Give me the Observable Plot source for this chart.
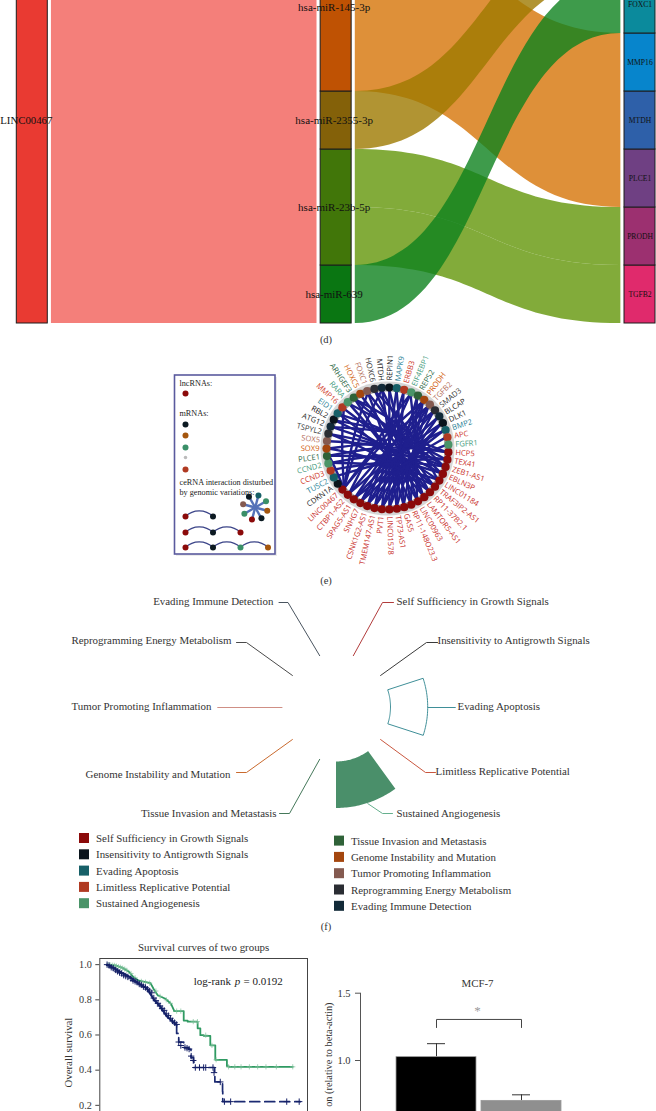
<!DOCTYPE html>
<html><head><meta charset="utf-8">
<script src="https://cdn.jsdelivr.net/npm/d3@7"></script>
<script src="https://cdn.jsdelivr.net/npm/@observablehq/plot@0.6"></script>
<style>
html,body{margin:0;padding:0;background:#fff;overflow:hidden}
#page{position:relative;width:656px;height:1111px;overflow:hidden;background:#fff;font-family:"Liberation Serif",serif}
.cap{position:absolute;width:30px;text-align:center;font-size:10.5px;color:#333;line-height:12px}
</style></head><body><div id="page"></div>
<script>
// ---------- (d) Sankey data (listed bottom-up) ----------
const lncName = "LINC00467";
const mirNames = ["hsa-miR-639","hsa-miR-23b-5p","hsa-miR-2355-3p","hsa-miR-145-3p"];
const mirColors = ["#0a7612","#417609","#846109","#bf5203"];
const targetNames = ["TGFB2","PRODH","PLCE1","MTDH","MMP16","FOXC1",""];
const targetColors = ["#e02a6c","#9c3070","#6f4083","#2e60a9","#0785cc","#0b8a9c","#0b8a7c"];
const mirTargets = {
  "hsa-miR-145-3p":["PLCE1","MTDH","MMP16"],
  "hsa-miR-2355-3p":[""],
  "hsa-miR-23b-5p":["TGFB2","PRODH"],
  "hsa-miR-639":["FOXC1"]
};
const linkColors = {"hsa-miR-145-3p":"#d67408","hsa-miR-2355-3p":"#9d7900","hsa-miR-23b-5p":"#639609","hsa-miR-639":"#0e821e"};
const lncLinkColor = "#f47f7a";

// ---------- (e) ceRNA network data ----------
const lncRNAs = ["HCP5","TEX41","ZEB1-AS1","EBLN3P","LINC01184","TRAF3IP2-AS1","RP11-37B2.1","LAMTOR5-AS1","LINC00963","RP11-148O23.3","GAS5","TP73-AS1","LINC01578","PVT1","TMEM147-AS1","CSNK1G2-AS1","SNHG7","SPAG5-AS1","CTBP1-AS2","LINC00467"];
const mRNAs = ["CDKN1A","TUSC2","CCND3","CCND2","PLCE1","SOX9","SOX5","TSPYL2","ATG12","RBL2","EID1","MMP16","RARA","ARHGEF3","HOXC5","FOXC1","HOXC6","MTDH","REPIN1","MAPK9","ERBB3","EIF4EBP1","REPS2","PRODH","TGFB2","SMAD3","BLCAP","DLK1","BMP2","APC","FGFR1"];
const mRNAClass = [1,2,3,4,5,6,7,8,9,1,2,3,4,5,6,7,8,9,1,2,3,4,5,6,7,8,9,1,2,3,4];
const edges = [
 ["HCP5",["PLCE1","SOX9","ATG12"]],
 ["TEX41",["TUSC2","CCND2","RBL2"]],
 ["ZEB1-AS1",["CCND3","SOX5","EID1","ARHGEF3"]],
 ["EBLN3P",["PLCE1","TSPYL2","RARA"]],
 ["LINC01184",["CCND2","ATG12","HOXC6"]],
 ["TRAF3IP2-AS1",["SOX9","RBL2","ARHGEF3"]],
 ["RP11-37B2.1",["TSPYL2","MMP16","FOXC1"]],
 ["LAMTOR5-AS1",["EID1","HOXC5","MTDH"]],
 ["LINC00963",["RARA","HOXC6","EIF4EBP1"]],
 ["RP11-148O23.3",["ARHGEF3","REPIN1","REPS2"]],
 ["GAS5",["FOXC1","MAPK9","PRODH"]],
 ["TP73-AS1",["MTDH","ERBB3","TGFB2"]],
 ["LINC01578",["REPIN1","REPS2","SMAD3"]],
 ["PVT1",["MAPK9","PRODH","BLCAP","DLK1"]],
 ["TMEM147-AS1",["ERBB3","TGFB2","DLK1"]],
 ["CSNK1G2-AS1",["EIF4EBP1","SMAD3","BMP2"]],
 ["SNHG7",["PRODH","BLCAP","APC"]],
 ["SPAG5-AS1",["TGFB2","DLK1","FGFR1"]],
 ["CTBP1-AS2",["SMAD3","BMP2","EIF4EBP1"]],
 ["LINC00467",["FOXC1","MMP16","MTDH","PLCE1","PRODH","TGFB2"]]
];

// ---------- (f) hallmarks ----------
const hallmarks = ["Self Sufficiency in Growth Signals","Insensitivity to Antigrowth Signals","Evading Apoptosis","Limitless Replicative Potential","Sustained Angiogenesis","Tissue Invasion and Metastasis","Genome Instability and Mutation","Tumor Promoting Inflammation","Reprogramming Energy Metabolism","Evading Immune Detection"];
const hallmarkValues = [0,0,0.8,0,1,0,0,0,0,0];
const hallmarkFilled = [0,0,0,0,1,0,0,0,0,0];
const hallmarkColors = ["#8b0a0a","#0a141c","#176068","#b03a22","#4a9468","#2f6238","#a4460e","#845a50","#2a2d33","#122a38"];
const leaderColors = ["#b23c3c","#3a3a3a","#3f8f98","#c9573f","#66b08e","#45785a","#c96a2e","#cf8f85","#4a4a4a","#4a5560"];

// ---------- (g) survival ----------
const greenEarlyT = [3.5,7.5,10.7,13.9,16.3,18.8,24.4,26,27.9,31.6,34.3,35.9];
const greenEarlyS = [1,.996,.983,.961,.928,.909,.895,.86,.826,.806,.777,.736];
const greenLateT = [35.9,40.4,42.3,47.1,48.4,50,53.2,55.6,61.2,62.2,92.9];
const greenLateS = [.736,.682,.676,.638,.599,.595,.541,.459,.422,.419,.419];
const navyEarlyT = [3.5,6.7,10.7,14.7,18.3,22.8,26,29.2,32.4,36.9];
const navyEarlyS = [1,.981,.953,.928,.895,.864,.802,.76,.705,.657];
const navyLateT = [36.9,37,38,40.4,42.8,43.9,45.2,45.3,54.5,55.3,55.4,59.1,59.2,96.5];
const navyLateS = [.657,.609,.56,.529,.519,.471,.448,.415,.415,.386,.333,.279,.221,.221];
const greenCensorT = [4,5,6,7,8,9,10,11,12,13,15,17,20,22,24,27,29,32,34,37,39,45,47,51,54,56,62,65,68,72,76,80,85,92.9];
const greenCensorS = [1,.998,.997,.996,.992,.988,.985,.98,.975,.968,.95,.925,.905,.9,.895,.85,.82,.8,.78,.736,.736,.676,.676,.599,.541,.459,.419,.419,.419,.419,.419,.419,.419,.419];
const navyCensorT = [3.5,4.5,5.5,6.5,7.5,8.5,9.5,10.5,11.5,12.5,13.5,15,16,17,18,19,20,21,22,23,24,25,26,27,28,29,30,31,32,33,34,35,36,37,38,39,41,42,43,44,45,46,48,50,51,54.5,55,58,60,63,90,96];
const navyCensorS = [1,.995,.985,.98,.97,.962,.955,.95,.94,.935,.93,.92,.91,.905,.9,.89,.885,.875,.87,.86,.85,.84,.81,.795,.78,.765,.75,.74,.72,.71,.695,.68,.67,.66,.56,.54,.529,.525,.52,.48,.455,.415,.415,.415,.415,.415,.386,.333,.221,.221,.221,.221];
const survTitle = "Survival curves of two groups";

// ---------- (h) qPCR bars ----------
const barGroups = ["Control","Knockdown"];
const barValues = [1.025,0.70];
const barErrors = [1.125,0.745];
const barColors = ["#000000","#8f8f8f"];
const barTitle = "MCF-7";
const barYLabel = "on (relative to beta-actin)";
const sigLow = 1.245, sigHigh = 1.305;

// =========== drawing ===========
const page = document.getElementById("page");
const serif = '"Liberation Serif",serif';
const sans = '"Open Sans",sans-serif';
function place(el,left,top){el.style.position="absolute";el.style.left=left+"px";el.style.top=top+"px";el.style.background="transparent";page.appendChild(el);return el;}
function caption(t,x,y){const d=document.createElement("div");d.className="cap";d.textContent=t;d.style.left=(x-15)+"px";d.style.top=(y-6)+"px";page.appendChild(d);}

// ----- (d) -----
(function(){
  const nodeW=0.102, gap=0.012;
  let stack=0; const mirNodes=[]; const links=[];
  mirNames.forEach((m,i)=>{
    const ts=mirTargets[m], n=ts.length;
    mirNodes.push({name:m,y0:stack,y1:stack+n,fill:mirColors[i]});
    const tis=ts.map(t=>targetNames.indexOf(t));
    if(m==="hsa-miR-145-3p"){ // contiguous targets drawn as one ribbon
      links.push({id:m,color:linkColors[m],s0:stack,s1:stack+n,t0:d3.min(tis),t1:d3.max(tis)+1,m});
    } else tis.forEach((ti,k)=>links.push({id:m+ti,color:linkColors[m],s0:stack+k,s1:stack+k+1,t0:ti,t1:ti+1,m}));
    stack+=n;
  });
  const total=targetNames.length;
  const targets=targetNames.map((t,i)=>({name:t,y0:i,y1:i+1,fill:targetColors[i]}));
  const pts=[];
  mirNames.slice().reverse().forEach(m=>links.filter(l=>l.m===m).forEach(l=>{
    pts.push({id:l.id,color:l.color,x:1+nodeW+gap,y0:l.s0,y1:l.s1});
    pts.push({id:l.id,color:l.color,x:2-gap,y0:l.t0,y1:l.t1});
  }));
  const nodeMark=(data,st)=>Plot.rect(data,{x1:st,x2:st+nodeW,y1:"y0",y2:"y1",fill:"fill",stroke:"#1c1c1c",strokeWidth:1});
  const mid=d=>(d.y0+d.y1)/2;
  const plot=Plot.plot({width:656,height:325,margin:0,
    x:{domain:[-16.3/304,640/304],range:[0,656],axis:null},
    y:{domain:[0,total],range:[323,-83],axis:null},
    style:{fontFamily:serif,background:"transparent"},
    marks:[
      nodeMark([{y0:0,y1:total,fill:"#e93a32"}],0),
      Plot.rect([{y0:0,y1:total}],{x1:nodeW+gap,x2:1-gap,y1:"y0",y2:"y1",fill:lncLinkColor}),
      nodeMark(mirNodes,1),
      nodeMark(targets,2),
      Plot.areaY(pts,{x:"x",y1:"y0",y2:"y1",z:"id",fill:"color",fillOpacity:0.8,curve:"bump-x"}),
      Plot.text([lncName],{x:nodeW/2,y:total/2,text:d=>d,fontSize:10.8,fill:"#111",dx:-6}),
      Plot.text(mirNodes.slice(0,3),{x:1+nodeW/2,y:mid,text:"name",fontSize:11,fill:"#111",dx:-2}),
      Plot.text(mirNodes.slice(3),{x:1+nodeW/2,y:mid,text:"name",fontSize:11,fill:"#111",dx:-2,dy:3}),
      Plot.text(targets.filter(d=>d.name),{x:2+nodeW/2,y:mid,text:"name",fontSize:7.6,fill:"#111"})
    ]});
  place(plot,0,0);
})();
caption("(d)",326,340);

// ----- (e) legend panel -----
(function(){
  const slotX=i=>185+i*27.5;
  const lnc=hallmarkColors[0];
  const singles=[
    {x:0,y:393,fill:lnc,r:3},
    {x:0,y:424,fill:"#0c1a22",r:3},{x:0,y:435,fill:"#a4560e",r:3},{x:0,y:447,fill:"#3a8f68",r:3},
    {x:0,y:457,fill:"#bbbbbb",r:1},{x:0,y:469,fill:"#b03a22",r:3}
  ];
  const chains=[
    {y:516,nodes:[lnc,"#0c1a22"]},
    {y:532,nodes:[lnc,"#0c1a22",lnc]},
    {y:547,nodes:[lnc,"#0c1a22","#3a8f68","#a4560e"]}
  ];
  const chainDots=chains.flatMap(c=>c.nodes.map((fill,i)=>({x:i,y:c.y,fill})));
  const chainArcs=chains.flatMap(c=>c.nodes.slice(1).map((_,i)=>({x1:i,x2:i+1,y:c.y})));
  const star=["#0c1a22","#176068","#3a8f68","#a4560e","#0c1a22","#8b0a0a","#3a8f68","#845a50"];
  const sc={x:254.7,y:507};
  const starDots=star.map((fill,i)=>{const a=(-30+i*45)*Math.PI/180;return {x:sc.x+12.5*Math.sin(a),y:sc.y-12.5*Math.cos(a),fill};});
  const txt=[["lncRNAs:",383],["mRNAs:",413],["ceRNA interaction disturbed",482],["by genomic variations:",492]];
  const plot=Plot.plot({width:110,height:190,margin:0,
    x:{domain:[171,281],range:[0,110],axis:null},
    y:{domain:[371,561],range:[0,190],axis:null},
    style:{fontFamily:serif,background:"transparent"},
    marks:[
      Plot.rect([0],{x1:176,x2:277,y1:377,y2:556,fill:"#ddd",fillOpacity:.6}),
      Plot.rect([0],{x1:174.5,x2:275,y1:375,y2:554,fill:"#fff",stroke:"#5a5a9e",strokeWidth:1.6}),
      Plot.dot(singles,{x:d=>slotX(d.x),y:"y",fill:"fill",r:"r"}),
      Plot.arrow(chainArcs,{x1:d=>slotX(d.x1),x2:d=>slotX(d.x2),y1:"y",y2:"y",bend:45,headLength:0,stroke:"#3b4488",strokeWidth:1.3}),
      Plot.dot(chainDots,{x:d=>slotX(d.x),y:"y",fill:"fill",r:3}),
      Plot.link(starDots,{x1:sc.x,y1:sc.y,x2:"x",y2:"y",stroke:"#5572b8",strokeWidth:2.4}),
      Plot.dot(starDots,{x:"x",y:"y",fill:"fill",r:3}),
      Plot.text(txt,{x:179,y:d=>d[1],text:d=>d[0],textAnchor:"start",fontSize:8.2,fill:"#222"})
    ]});
  place(plot,171,371);
})();

// ----- (e) circos -----
(function(){
  const R=61;
  const nodes=lncRNAs.map(name=>({name,color:"#8b0a0a",text:"#c9302c"}))
    .concat(mRNAs.map((name,i)=>({name,color:hallmarkColors[mRNAClass[i]],text:[null,"#1a1a1a","#2a7f96","#cf3a2a","#3f9a7c","#2f6a48","#d2600e","#b5705e","#333","#222"][mRNAClass[i]]})));
  nodes.forEach((n,i)=>{const deg=93.5+i*360/nodes.length;n.deg=deg;const a=deg*Math.PI/180;n.sx=Math.sin(a);n.cy=-Math.cos(a);});
  const byName=new Map(nodes.map(n=>[n.name,n]));
  const chordPts=edges.flatMap(([s,ts])=>ts.flatMap(t=>{
    const a=byName.get(s),b=byName.get(t),id=s+">"+t,r=R-2;
    return [{id,x:a.sx*r,y:a.cy*r},{id,x:(a.sx+b.sx)*r*.55,y:(a.cy+b.cy)*r*.55-16},{id,x:b.sx*r,y:b.cy*r}];
  }));
  const labelR=68;
  const right=nodes.filter(n=>n.sx>=0), left=nodes.filter(n=>n.sx<0);
  const plot=Plot.plot({width:250,height:250,margin:0,
    x:{domain:[-125,125],range:[0,250],axis:null},
    y:{domain:[-125,125],range:[0,250],axis:null},
    style:{fontFamily:sans,background:"transparent"},
    marks:[
      Plot.dot([0],{x:0,y:0,r:67,fill:"#d6d6d6"}),
      Plot.dot([0],{x:0,y:0,r:64,fill:"#ababab"}),
      Plot.dot([0],{x:0,y:0,r:57,fill:"#fff"}),
      Plot.line(chordPts,{x:"x",y:"y",z:"id",stroke:"#1f1f8e",strokeWidth:2.4,curve:"bundle",tension:0.6}),
      Plot.dot(nodes,{x:d=>d.sx*R,y:d=>d.cy*R,r:4.1,fill:"color"}),
      Plot.text(right,{x:d=>d.sx*labelR,y:d=>d.cy*labelR,text:"name",rotate:d=>d.deg-90,textAnchor:"start",fill:"text",fontSize:7.6}),
      Plot.text(left,{x:d=>d.sx*labelR,y:d=>d.cy*labelR,text:"name",rotate:d=>d.deg+90,textAnchor:"end",fill:"text",fontSize:7.6})
    ]});
  place(plot,261.7,322.5);
})();
caption("(e)",326,581);

// ----- (f) radial -----
(function(){
  const inner=54.5, maxLen=46.5;
  const sectorDeg=i=>18+36*i;
  const pol=(deg,r)=>{const a=deg*Math.PI/180;return [r*Math.sin(a),-r*Math.cos(a)];};
  const wedgePts=[];
  hallmarks.forEach((name,i)=>{
    if(!hallmarkValues[i])return;
    const outer=inner+hallmarkValues[i]*maxLen;
    d3.range(0,37).forEach(k=>{
      const deg=sectorDeg(i)-18+k;
      const [xi,yi]=pol(deg,inner),[xo,yo]=pol(deg,outer);
      wedgePts.push({name,xi,yi,xo,yo,fill:hallmarkFilled[i]?"#4a8f6a":"#fff",stroke:hallmarkFilled[i]?"none":"#3f8f98"});
    });
  });
  const lead=[[46,-105,57,60],[90,-65,101,101],[119,0,119,121],[89,65,99,99],[46,106,56,60],[-47,106,-57,-60],[-90,65,-100,-106],[-119,0,-119,-125],[-90,-65,-100,-105],[-48.5,-105,-57.5,-63]];
  const labelDy=[-1,-2,-1,-1,0,0,2,-1,-2,-1];
  const leaders=hallmarks.flatMap((name,i)=>{
    const r=inner+hallmarkValues[i]*maxLen;
    const [x0,y0]=pol(sectorDeg(i),r),[ex,ey,lx]=lead[i];
    return [{name,x:x0,y:y0,c:leaderColors[i]},{name,x:ex,y:ey,c:leaderColors[i]},{name,x:lx,y:ey,c:leaderColors[i]}];
  });
  const labels=hallmarks.map((name,i)=>({name,x:lead[i][3],y:lead[i][1]+labelDy[i],right:lead[i][3]>0}));
  const legendRows=hallmarks.map((name,i)=>{
    const col=i<5?0:1,row=i%5;
    return {name,fill:hallmarkColors[i],x:col?-2:-257,y:col?(133.6+row*16.3):(131+row*16.3)};
  });
  const plot=Plot.plot({width:656,height:345,margin:0,
    x:{domain:[-336,320],range:[0,656],axis:null},
    y:{domain:[-122,223],range:[0,345],axis:null},
    style:{fontFamily:serif,background:"transparent"},
    marks:[
      Plot.line(leaders,{x:"x",y:"y",z:"name",stroke:"c",strokeWidth:1}),
      Plot.area(wedgePts,{x1:"xi",y1:"yi",x2:"xo",y2:"yo",z:"name",fill:"fill",stroke:"stroke",strokeWidth:1,curve:"linear"}),
      Plot.text(labels.filter(d=>d.right),{x:"x",y:"y",text:"name",textAnchor:"start",fontSize:10.9,fill:"#333"}),
      Plot.text(labels.filter(d=>!d.right),{x:"x",y:"y",text:"name",textAnchor:"end",fontSize:10.9,fill:"#333"}),
      Plot.rect(legendRows,{x1:"x",x2:d=>d.x+10,y1:d=>d.y-5,y2:d=>d.y+5,fill:"fill"}),
      Plot.text(legendRows,{x:d=>d.x+16.5,y:"y",text:"name",textAnchor:"start",fontSize:10.9,fill:"#333"})
    ]});
  place(plot,0,585);
})();
caption("(f)",326,927);

// ----- (g) survival -----
(function(){
  const zip=(t,s)=>t.map((x,i)=>({t:x,s:s[i]}));
  const plot=Plot.plot({width:259,height:205,marginLeft:49.3,marginRight:2,marginTop:23,marginBottom:0,
    x:{domain:[0,100],axis:null},
    y:{domain:[0,1.035],axis:null},
    style:{fontFamily:serif,background:"transparent",overflow:"visible"},
    marks:[
      Plot.frame({stroke:"#444",strokeWidth:1}),
      Plot.axisY({ticks:[.2,.4,.6,.8,1],tickFormat:".1f",tickSize:4,tickPadding:4,fontSize:10.2,label:null,stroke:"#444",fill:"#333"}),
      Plot.line(zip(greenEarlyT,greenEarlyS),{x:"t",y:"s",stroke:"#2f9a62",strokeWidth:1.8}),
      Plot.line(zip(greenLateT,greenLateS),{x:"t",y:"s",stroke:"#2f9a62",strokeWidth:1.8,curve:"step-after"}),
      Plot.dot(zip(greenCensorT,greenCensorS),{x:"t",y:"s",symbol:"plus",r:1.8,stroke:"#7cc09a",strokeWidth:.7}),
      Plot.line(zip(navyEarlyT,navyEarlyS),{x:"t",y:"s",stroke:"#1b2a72",strokeWidth:2.2}),
      Plot.line(zip(navyLateT,navyLateS),{x:"t",y:"s",stroke:"#1b2a72",strokeWidth:1.7,curve:"step-after",strokeDasharray:"10,5"}),
      Plot.dot(zip(navyCensorT,navyCensorS),{x:"t",y:"s",symbol:"plus",r:2.2,stroke:"#141f66",strokeWidth:1}),
      Plot.text([survTitle],{frameAnchor:"top",dy:-15,text:d=>d,fontSize:10.9,fill:"#333"}),
      Plot.text(["Overall survival"],{x:-15,y:.5,text:d=>d,rotate:-90,fontSize:10.8,fill:"#333"}),
      Plot.text(["log-rank"],{x:45.2,y:.907,text:d=>d,textAnchor:"start",fontSize:11,fill:"#222"}),
      Plot.text(["p"],{x:65,y:.907,text:d=>d,textAnchor:"start",fontSize:11,fontStyle:"italic",fill:"#222"}),
      Plot.text(["= 0.0192"],{x:69.2,y:.907,text:d=>d,textAnchor:"start",fontSize:11,fill:"#222"})
    ]});
  place(plot,50,935);
})();

// ----- (h) bars -----
(function(){
  const rows=barGroups.map((g,i)=>({g,v:barValues[i],e:barErrors[i],c:barColors[i]}));
  const bracket=[{g:barGroups[0],y:sigLow},{g:barGroups[0],y:sigHigh},{g:barGroups[1],y:sigHigh},{g:barGroups[1],y:sigLow}];
  const plot=Plot.plot({width:274,height:240,marginLeft:40,marginRight:0,marginTop:32.7,marginBottom:5.4,
    x:{domain:barGroups,range:[70.3,245.7],padding:.0635,align:.5,axis:null},
    y:{domain:[0,1.5],axis:null},
    style:{fontFamily:serif,background:"transparent",overflow:"visible"},
    marks:[
      Plot.frame({anchor:"left",stroke:"#555",strokeWidth:1}),
      Plot.axisY({ticks:[1,1.5],tickFormat:".1f",tickSize:5,tickPadding:5,fontSize:10.5,label:null,stroke:"#555",fill:"#333"}),
      Plot.ruleX(rows,{x:"g",y1:"v",y2:"e",stroke:"#333",strokeWidth:1}),
      Plot.tickY(rows,{x:"g",y:"e",stroke:"#333",strokeWidth:1,insetLeft:31,insetRight:31}),
      Plot.barY(rows,{x:"g",y:"v",fill:"c",stroke:"#999",strokeWidth:.8}),
      Plot.line(bracket,{x:"g",y:"y",stroke:"#444",strokeWidth:1}),
      Plot.text(["*"],{y:1.37,text:d=>d,fontSize:13,fill:"#999"}),
      Plot.text([barTitle],{y:1.572,text:d=>d,fontSize:10.9,fill:"#333"}),
      Plot.text([barYLabel],{frameAnchor:"left",y:1.431,dx:-32,text:d=>d,rotate:-90,textAnchor:"end",fontSize:10.3,fill:"#333"})
    ]});
  place(plot,320,960);
})();
</script></body></html>
